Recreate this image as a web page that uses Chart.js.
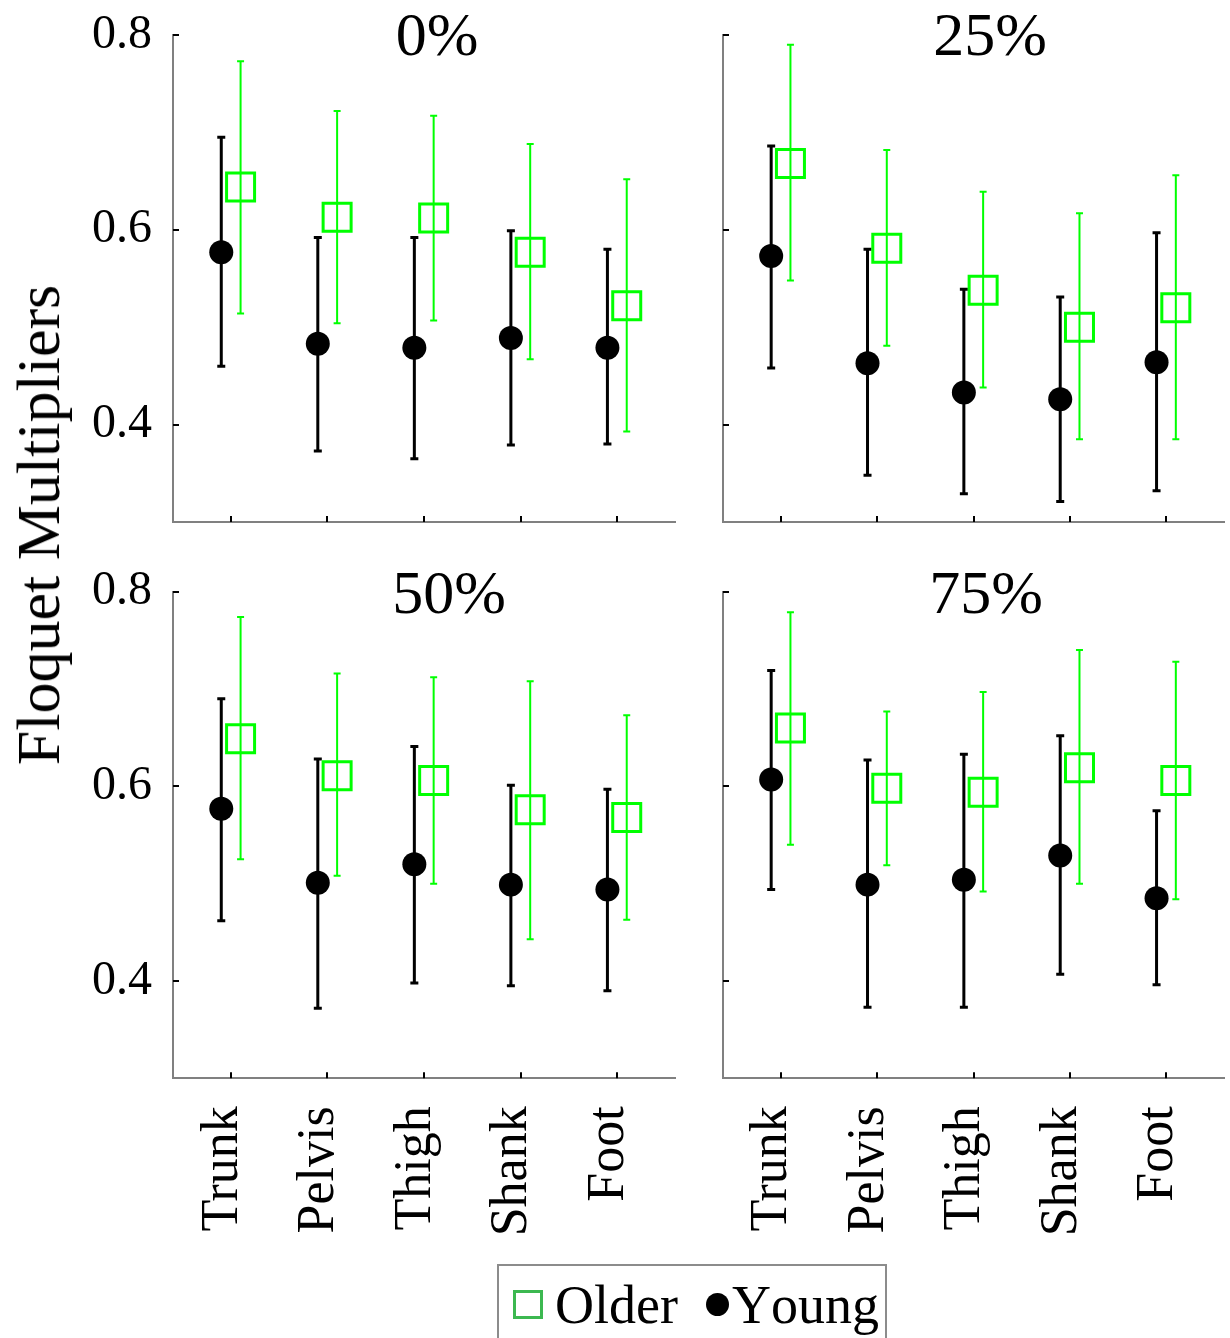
<!DOCTYPE html>
<html>
<head>
<meta charset="utf-8">
<script src="https://cdn.jsdelivr.net/npm/chart.js@4.4.1/dist/chart.umd.min.js"></script>
<style>
html,body{margin:0;padding:0;background:#fff;}
#wrap{position:relative;width:1230px;height:1338px;overflow:hidden;font-family:"Liberation Serif","Times New Roman",serif;color:#000;}
.pane{position:absolute;display:block;}
#ylab{position:absolute;left:38px;top:525px;transform:translate(-50%,-50%) rotate(-90deg);font-size:62px;line-height:62px;white-space:nowrap;}
#legend{position:absolute;left:497px;top:1264px;width:386px;height:72px;border:2px solid #8c8c8c;background:#fff;}
#legend .sq{position:absolute;left:14px;top:24px;width:24px;height:23px;border:3px solid #3cb850;}
#legend .dot{position:absolute;left:207px;top:27px;width:23px;height:23px;border-radius:50%;background:#000;}
#legend .txt{position:absolute;font-size:54px;line-height:54px;white-space:nowrap;font-kerning:none;}
</style>
</head>
<body>
<div id="wrap">
  <canvas id="c0" class="pane"></canvas>
  <canvas id="c1" class="pane"></canvas>
  <canvas id="c2" class="pane"></canvas>
  <canvas id="c3" class="pane"></canvas>
  <div id="ylab">Floquet Multipliers</div>
  <div id="legend">
    <div class="sq"></div><div class="txt" id="lgOlder" style="left:56px;top:12px;"></div>
    <div class="dot"></div><div class="txt" id="lgYoung" style="left:233px;top:12px;"></div>
  </div>
</div>
<script>
// ---------- data ----------
const categories = ['Trunk', 'Pelvis', 'Thigh', 'Shank', 'Foot'];
const panelTitles = ['0%', '25%', '50%', '75%'];
const yTicks = [0.4, 0.6, 0.8];
const seriesNames = ['Older', 'Young'];

// one row per panel (0%, 25%, 50%, 75%), one value per category
const youngMean = [
  [0.577, 0.483, 0.479, 0.489, 0.479],
  [0.573, 0.463, 0.433, 0.426, 0.464],
  [0.577, 0.501, 0.520, 0.499, 0.494],
  [0.607, 0.499, 0.504, 0.529, 0.485]
];
const youngUpper = [
  [0.695, 0.592, 0.592, 0.599, 0.580],
  [0.686, 0.580, 0.539, 0.531, 0.597],
  [0.690, 0.628, 0.641, 0.601, 0.597],
  [0.719, 0.627, 0.633, 0.652, 0.575]
];
const youngLower = [
  [0.460, 0.373, 0.365, 0.379, 0.380],
  [0.458, 0.348, 0.329, 0.321, 0.332],
  [0.462, 0.372, 0.398, 0.395, 0.390],
  [0.494, 0.373, 0.373, 0.407, 0.396]
];
const olderMean = [
  [0.644, 0.613, 0.612, 0.577, 0.522],
  [0.668, 0.581, 0.538, 0.500, 0.520],
  [0.649, 0.611, 0.606, 0.576, 0.568],
  [0.660, 0.598, 0.594, 0.619, 0.606]
];
const olderUpper = [
  [0.773, 0.722, 0.717, 0.688, 0.652],
  [0.790, 0.682, 0.639, 0.617, 0.656],
  [0.774, 0.716, 0.712, 0.708, 0.673],
  [0.779, 0.677, 0.697, 0.740, 0.728]
];
const olderLower = [
  [0.514, 0.504, 0.507, 0.467, 0.393],
  [0.548, 0.481, 0.438, 0.385, 0.385],
  [0.525, 0.508, 0.500, 0.443, 0.463],
  [0.540, 0.519, 0.492, 0.500, 0.484]
];

// ---------- layout / style ----------
const FONT = '"Liberation Serif","Times New Roman",serif';
const panes = [
  {left:0,   top:0,   w:690, h:560, l:173, r:675,  t:35,    b:522,    showY:true,  showX:false, tx:437, ty:55},
  {left:690, top:0,   w:540, h:560, l:723, r:1224, t:35,    b:522,    showY:false, showX:false, tx:990, ty:55},
  {left:0,   top:560, w:690, h:778, l:173, r:675,  t:591.7, b:1078.3, showY:true,  showX:true,  tx:449, ty:613},
  {left:690, top:560, w:540, h:778, l:723, r:1224, t:591.7, b:1078.3, showY:false, showX:true,  tx:986, ty:613}
];
const youngShift = -0.1, olderShift = 0.1;

document.getElementById('lgOlder').textContent = seriesNames[0];
document.getElementById('lgYoung').textContent = seriesNames[1];

const errorBarPlugin = {
  id: 'errorBars',
  beforeDatasetsDraw(chart) {
    const ctx = chart.ctx, xs = chart.scales.x, ys = chart.scales.y;
    chart.data.datasets.forEach(ds => {
      ctx.save();
      ctx.strokeStyle = ds.errColor;
      ctx.lineWidth = ds.errWidth;
      ds.data.forEach((pt, i) => {
        const px = xs.getPixelForValue(pt.x);
        const pLo = ys.getPixelForValue(ds.errLower[i]);
        const pHi = ys.getPixelForValue(ds.errUpper[i]);
        ctx.beginPath();
        ctx.moveTo(px, pLo); ctx.lineTo(px, pHi);
        ctx.moveTo(px - ds.capHalf, pLo); ctx.lineTo(px + ds.capHalf, pLo);
        ctx.moveTo(px - ds.capHalf, pHi); ctx.lineTo(px + ds.capHalf, pHi);
        ctx.stroke();
      });
      ctx.restore();
    });
  },
  afterDraw(chart, args, opts) {
    const ctx = chart.ctx, xs = chart.scales.x, ys = chart.scales.y, a = chart.chartArea;
    ctx.save();
    ctx.strokeStyle = '#000';
    ctx.lineWidth = 2;
    ctx.beginPath();
    yTicks.forEach(v => {
      const py = Math.round(ys.getPixelForValue(v));
      ctx.moveTo(a.left, py); ctx.lineTo(a.left + 6, py);
    });
    categories.forEach((c, i) => {
      const px = Math.round(xs.getPixelForValue(i + 1));
      ctx.moveTo(px, a.bottom); ctx.lineTo(px, a.bottom - 6);
    });
    ctx.stroke();
    // panel title
    ctx.fillStyle = '#000';
    ctx.font = '62px ' + FONT;
    ctx.textAlign = 'center';
    ctx.textBaseline = 'alphabetic';
    ctx.fillText(opts.title, opts.tx, opts.ty);
    ctx.restore();
  }
};

panes.forEach((pn, p) => {
  const cv = document.getElementById('c' + p);
  cv.width = pn.w; cv.height = pn.h;
  cv.style.left = pn.left + 'px'; cv.style.top = pn.top + 'px';
  cv.style.width = pn.w + 'px'; cv.style.height = pn.h + 'px';

  new Chart(cv, {
    type: 'scatter',
    data: {
      datasets: [
        {
          label: seriesNames[1],
          data: categories.map((c, i) => ({x: i + 1 + youngShift, y: youngMean[p][i]})),
          errLower: youngLower[p], errUpper: youngUpper[p],
          errColor: '#000', errWidth: 3, capHalf: 4,
          pointStyle: 'circle', pointRadius: 12, pointHoverRadius: 12,
          backgroundColor: '#000', borderColor: '#000', borderWidth: 0
        },
        {
          label: seriesNames[0],
          data: categories.map((c, i) => ({x: i + 1 + olderShift, y: olderMean[p][i]})),
          errLower: olderLower[p], errUpper: olderUpper[p],
          errColor: '#00ff00', errWidth: 2, capHalf: 3.5,
          pointStyle: 'rect', pointRadius: 19.8, pointHoverRadius: 19.8,
          backgroundColor: 'rgba(0,0,0,0)', borderColor: '#00ff00', borderWidth: 3
        }
      ]
    },
    options: {
      responsive: false, animation: false, devicePixelRatio: 1, events: [],
      layout: {autoPadding: false, padding: {left: 0, top: pn.t - pn.top, right: pn.left + pn.w - pn.r, bottom: 0}},
      plugins: {
        legend: {display: false}, tooltip: {enabled: false},
        errorBars: {title: panelTitles[p], tx: pn.tx - pn.left, ty: pn.ty - pn.top}
      },
      scales: {
        x: {
          type: 'linear', min: 0.4, max: 5.6,
          grid: {display: false, drawTicks: false},
          border: {display: true, color: '#808080', width: 2},
          ticks: {
            display: pn.showX, autoSkip: false, maxRotation: 90, minRotation: 90,
            padding: 28, labelOffset: -8, color: '#000',
            font: {family: FONT, size: 52},
            callback: v => categories[Math.round(v) - 1] || ''
          },
          afterBuildTicks: s => { s.ticks = categories.map((c, i) => ({value: i + 1})); },
          afterFit: s => { s.height = pn.top + pn.h - pn.b; s.paddingLeft = 0; s.paddingRight = 0; }
        },
        y: {
          type: 'linear', min: 0.3, max: 0.8,
          grid: {display: false, drawTicks: false},
          border: {display: true, color: '#808080', width: 2},
          ticks: {
            display: pn.showY, padding: 21, color: '#000',
            font: {family: FONT, size: 48},
            callback: v => Number(v).toFixed(1)
          },
          afterBuildTicks: s => { s.ticks = yTicks.map(v => ({value: v})); },
          afterFit: s => { s.width = pn.l - pn.left; s.paddingTop = 0; s.paddingBottom = 0; }
        }
      }
    },
    plugins: [errorBarPlugin]
  });
});
</script>
</body>
</html>
